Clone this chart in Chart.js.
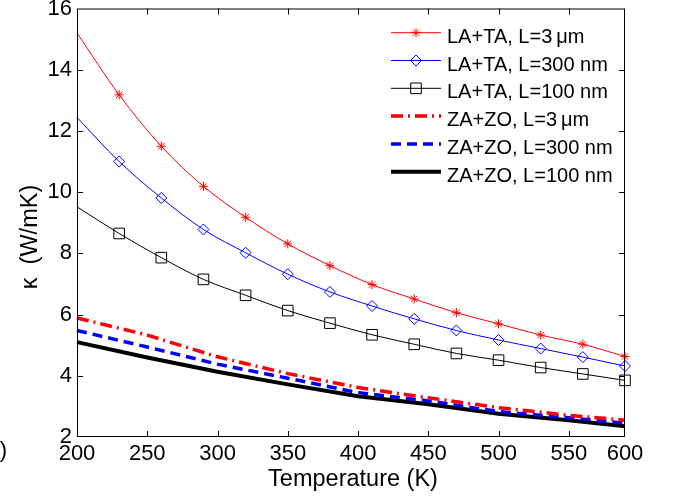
<!DOCTYPE html>
<html>
<head>
<meta charset="utf-8">
<script src="https://cdn.jsdelivr.net/npm/chart.js@4.4.1/dist/chart.umd.min.js"></script>
<style>
  html, body { margin: 0; padding: 0; background: #fff; }
  canvas { display: block; }
</style>
</head>
<body>
<canvas id="kappaChart" width="675" height="499"></canvas>
<script>
// LA+TA branches, sampled every 30 K
const tempLA = [200, 230, 260, 290, 320, 350, 380, 410, 440, 470, 500, 530, 560, 590];
const kappaLA3um   = [15.2, 13.18, 11.5, 10.19, 9.18, 8.31, 7.60, 6.98, 6.51, 6.06, 5.70, 5.33, 5.03, 4.63];
const kappaLA300nm = [12.44, 11.0, 9.81, 8.78, 8.02, 7.32, 6.74, 6.28, 5.86, 5.48, 5.17, 4.89, 4.61, 4.32];
const kappaLA100nm = [9.52, 8.65, 7.86, 7.15, 6.63, 6.13, 5.72, 5.34, 5.03, 4.73, 4.51, 4.27, 4.06, 3.85];

// ZA+ZO branches
const tempZA = [200, 250, 300, 350, 400, 450, 500, 550, 590];
const kappaZA3um   = [5.89, 5.33, 4.62, 4.07, 3.62, 3.28, 2.96, 2.71, 2.55];
const kappaZA300nm = [5.48, 4.94, 4.38, 3.92, 3.45, 3.18, 2.83, 2.63, 2.45];
const kappaZA100nm = [5.10, 4.60, 4.13, 3.72, 3.33, 3.07, 2.76, 2.55, 2.35];

// eixo x: o ultimo tick fica na borda direita do quadro
const xTickValues = [200, 250, 300, 350, 400, 450, 500, 550, 590];
const xTickLabels = ['200', '250', '300', '350', '400', '450', '500', '550', '600'];
const yTickValues = [2, 4, 6, 8, 10, 12, 14, 16];

const legendLabels = [
    'LA+TA, L=3\u2009\u03bcm',
    'LA+TA, L=300 nm',
    'LA+TA, L=100 nm',
    'ZA+ZO, L=3\u2009\u03bcm',
    'ZA+ZO, L=300 nm',
    'ZA+ZO, L=100 nm'
];

const FONT = '"Liberation Sans", Arial, Helvetica, sans-serif';

function toPoints(xs, ys) {
    return xs.map((x, i) => ({ x: x, y: ys[i] }));
}

// sem marcador no primeiro ponto (200 K)
function markerRadius(r) {
    return ctx => (ctx.dataIndex === 0 ? 0 : r);
}

function lineLA(label, data, color, style, radius) {
    return {
        label: label,
        data: toPoints(tempLA, data),
        borderColor: color,
        borderWidth: 1,
        pointStyle: style,
        pointRadius: markerRadius(radius),
        pointBorderColor: color,
        pointBackgroundColor: 'rgba(0,0,0,0)',
        pointBorderWidth: 1,
        legendRadius: radius,
        cubicInterpolationMode: 'monotone',
        fill: false,
        clip: false
    };
}

function lineZA(label, data, color, width, dash) {
    return {
        label: label,
        data: toPoints(tempZA, data),
        borderColor: color,
        borderWidth: width,
        borderDash: dash,
        pointRadius: 0,
        legendRadius: 0,
        tension: 0,
        fill: false,
        clip: false
    };
}

// quadro fechado com ticks para dentro nos quatro lados
const frameAndTicks = {
    id: 'frameAndTicks',
    afterDraw(chart) {
        const { ctx, chartArea: a, scales } = chart;
        const tick = 6;
        ctx.save();
        ctx.strokeStyle = '#000';
        ctx.lineWidth = 1;
        ctx.setLineDash([]);
        ctx.strokeRect(a.left + 0.5, a.top + 0.5, a.right - a.left - 1, a.bottom - a.top - 1);
        ctx.beginPath();
        xTickValues.slice(1, -1).forEach(v => {
            const px = Math.round(scales.x.getPixelForValue(v)) + 0.5;
            ctx.moveTo(px, a.bottom);
            ctx.lineTo(px, a.bottom - tick);
            ctx.moveTo(px, a.top);
            ctx.lineTo(px, a.top + tick);
        });
        yTickValues.slice(1, -1).forEach(v => {
            const py = Math.round(scales.y.getPixelForValue(v)) + 0.5;
            ctx.moveTo(a.left, py);
            ctx.lineTo(a.left + tick, py);
            ctx.moveTo(a.right, py);
            ctx.lineTo(a.right - tick, py);
        });
        ctx.stroke();
        ctx.restore();
    }
};

// legenda com amostra de linha e marcador
const sampleLegend = {
    id: 'sampleLegend',
    afterDraw(chart) {
        const ctx = chart.ctx;
        const x0 = 391, x1 = 441, textX = 447;
        ctx.save();
        chart.data.datasets.forEach((ds, i) => {
            const y = 32.7 + i * 27.8;
            ctx.strokeStyle = ds.borderColor;
            ctx.lineWidth = ds.borderWidth;
            ctx.setLineDash(ds.borderDash || []);
            ctx.beginPath();
            ctx.moveTo(x0, y);
            ctx.lineTo(x1, y);
            ctx.stroke();
            ctx.setLineDash([]);
            if (ds.legendRadius) {
                ctx.fillStyle = 'rgba(0,0,0,0)';
                ctx.lineWidth = 1;
                Chart.helpers.drawPoint(ctx, {
                    pointStyle: ds.pointStyle,
                    radius: ds.legendRadius,
                    borderWidth: 1,
                    rotation: 0
                }, (x0 + x1) / 2, y);
            }
            ctx.fillStyle = '#000';
            ctx.font = '20px ' + FONT;
            ctx.textAlign = 'left';
            ctx.textBaseline = 'alphabetic';
            ctx.fillText(legendLabels[i], textX, y + 10);
        });
        ctx.restore();
    }
};

// titulos dos eixos e rotulo do painel
const axisTitles = {
    id: 'axisTitles',
    afterDraw(chart) {
        const ctx = chart.ctx;
        ctx.save();
        ctx.fillStyle = '#000';
        ctx.font = '23.5px ' + FONT;
        ctx.textAlign = 'center';
        ctx.textBaseline = 'alphabetic';
        ctx.fillText('Temperature (K)', 353, 486);

        ctx.font = '22px ' + FONT;
        ctx.textAlign = 'right';
        ctx.textBaseline = 'middle';
        ctx.fillText('(c)', 7, 451);

        ctx.font = '23.5px ' + FONT;
        ctx.translate(31, 237);
        ctx.rotate(-Math.PI / 2);
        ctx.textAlign = 'center';
        ctx.fillText('\u03ba  (W/mK)', 0, 0);
        ctx.restore();
    }
};

// sem folga extra para os rotulos nas pontas dos eixos
function noEdgePadding(scale) {
    scale.paddingTop = 0;
    scale.paddingBottom = 0;
    scale.paddingLeft = 0;
    scale.paddingRight = 0;
}

function criarGrafico() {
    const ctx = document.getElementById('kappaChart').getContext('2d');
    return new Chart(ctx, {
        type: 'line',
        data: {
            datasets: [
                lineLA(legendLabels[0], kappaLA3um, '#ff0000', 'star', 4.5),
                lineLA(legendLabels[1], kappaLA300nm, '#0000ff', 'rectRot', 5.5),
                lineLA(legendLabels[2], kappaLA100nm, '#000000', 'rect', 7.5),
                lineZA(legendLabels[3], kappaZA3um, '#ff0000', 3.5, [12, 5, 2, 5]),
                lineZA(legendLabels[4], kappaZA300nm, '#0000ff', 3.5, [10, 6]),
                lineZA(legendLabels[5], kappaZA100nm, '#000000', 4, [])
            ]
        },
        options: {
            responsive: false,
            animation: false,
            devicePixelRatio: 1,
            layout: { padding: { left: 0, top: 7, right: 50, bottom: 0 } },
            plugins: {
                legend: { display: false },
                tooltip: { enabled: false }
            },
            scales: {
                x: {
                    type: 'linear',
                    min: 200,
                    max: 590,
                    grid: { display: false, drawTicks: false },
                    border: { display: false },
                    afterBuildTicks: scale => {
                        scale.ticks = xTickValues.map(v => ({ value: v }));
                    },
                    afterFit: scale => {
                        scale.height = 62;
                        noEdgePadding(scale);
                    },
                    ticks: {
                        autoSkip: false,
                        maxRotation: 0,
                        padding: 4,
                        color: '#000',
                        font: { family: FONT, size: 22 },
                        callback: (value, index) => xTickLabels[index]
                    }
                },
                y: {
                    min: 2,
                    max: 16,
                    grid: { display: false, drawTicks: false },
                    border: { display: false },
                    afterBuildTicks: scale => {
                        scale.ticks = yTickValues.map(v => ({ value: v }));
                    },
                    afterFit: scale => {
                        scale.width = 77;
                        noEdgePadding(scale);
                    },
                    ticks: {
                        autoSkip: false,
                        padding: 5,
                        color: '#000',
                        font: { family: FONT, size: 22 },
                        callback: value => String(value)
                    }
                }
            }
        },
        plugins: [frameAndTicks, sampleLegend, axisTitles]
    });
}

criarGrafico();
</script>
</body>
</html>
